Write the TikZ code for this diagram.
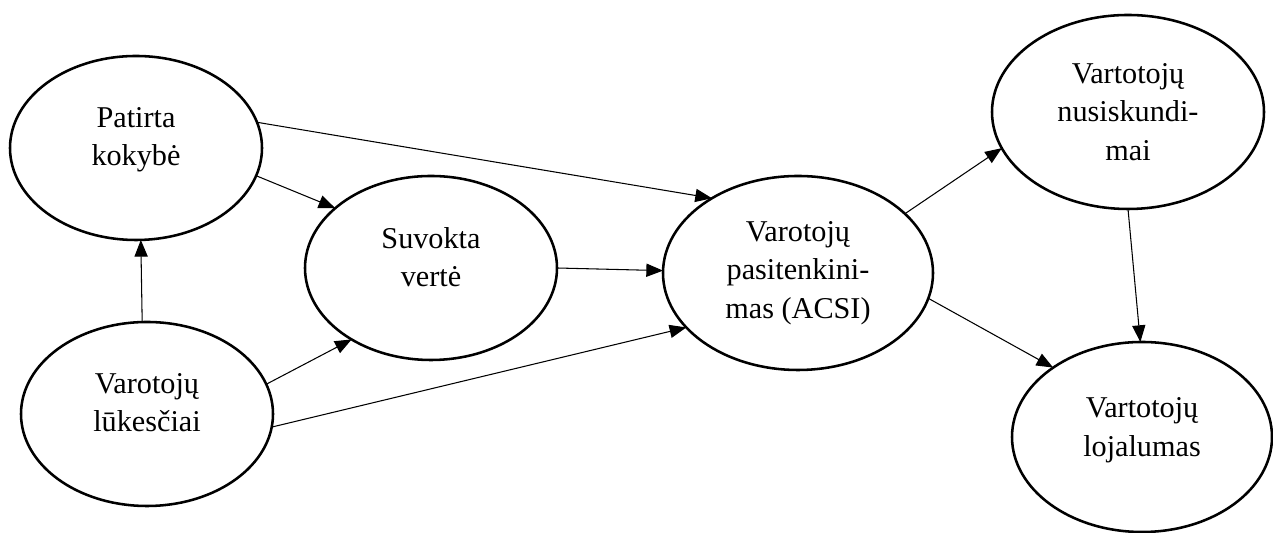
\documentclass[tikz,border=0pt]{standalone}
\usepackage{fontspec}
\setmainfont{Liberation Serif}
\usetikzlibrary{shapes.geometric, arrows.meta}

\begin{document}
\begin{tikzpicture}
	\tikzstyle{Factor} = [ellipse, draw=black, line width=1.45pt, fill=white, align=center, inner sep=0pt, outer sep=0pt, font=\fontsize{17.2}{21.8}\selectfont]
	\tikzstyle{Small} = [minimum width=5.04cm, minimum height=3.68cm]
	\tikzstyle{Big} = [minimum width=5.4cm, minimum height=3.88cm]
	\tikzstyle{raised} = [text depth=0.45cm]
	\tikzstyle{arrow} = [line width=0.6pt, -{Triangle[length=9.5pt, width=7.5pt]}]

	\useasboundingbox (0,0) rectangle (25.46,10.66);

	\node (patNode) [Factor, Small, raised] at (2.72,7.70) {Patirta\\kokybė};
	\node (lukNode) [Factor, Small, raised] at (2.94,2.38) {Varotojų\\lūkesčiai};
	\node (suvNode) [Factor, Small, raised] at (8.62,5.30) {Suvokta\\vertė};
	\node (satNode) [Factor, Big] at (15.96,5.20) {Varotojų\\pasitenkini-\\mas (ACSI)};
	\node (nusNode) [Factor, Big, minimum width=5.44cm] at (22.56,8.42) {Vartotojų\\nusiskundi-\\mai};
	\node (lojNode) [Factor, Big, minimum width=5.2cm, minimum height=3.8cm, text depth=0.4cm] at (22.84,1.92) {Vartotojų\\lojalumas};

	\draw [arrow] (lukNode.93) -- (patNode.-87);
	\draw [arrow] (patNode.-13.5) -- (suvNode.148);
	\draw [arrow] (patNode.12.6) -- (satNode.139);
	\draw [arrow] (lukNode.14.4) -- (suvNode.222);
	\draw [arrow] (lukNode.-6.3) -- (satNode.206);
	\draw [arrow] (suvNode.0) -- (satNode.179);
	\draw [arrow] (satNode.29) -- (nusNode.196.5);
	\draw [arrow] (satNode.-11.6) -- (lojNode.142.3);
	\draw [arrow] (nusNode.-90) -- (lojNode.91);
\end{tikzpicture}
\end{document}
